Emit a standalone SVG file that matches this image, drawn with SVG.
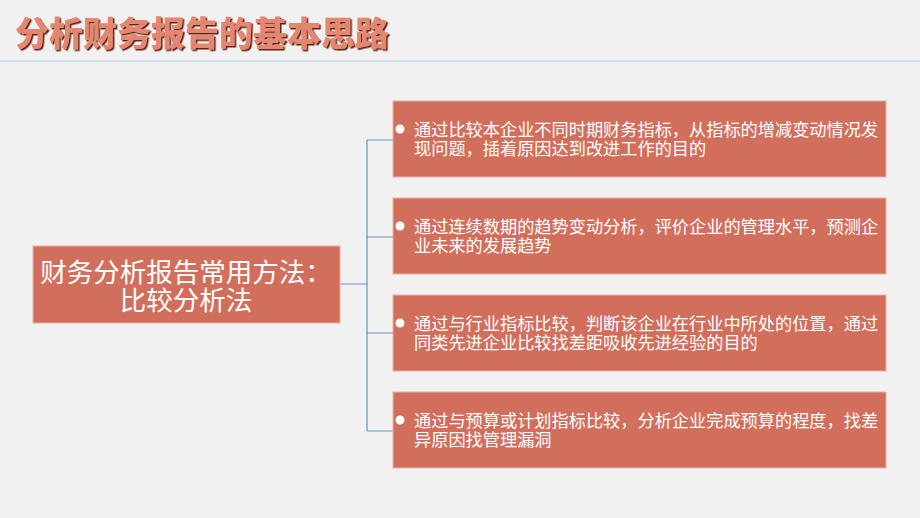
<svg xmlns="http://www.w3.org/2000/svg" width="920" height="518" viewBox="0 0 920 518">
<defs>
<filter id="shadow" x="-5%" y="-20%" width="110%" height="140%">
<feDropShadow dx="1.5" dy="1.5" stdDeviation="0.4" flood-color="#5e2418" flood-opacity="1"/>
</filter>
<style>
.bg{fill:#f1f1f1}
.title{font-family:"Noto Sans CJK SC","Noto Sans",sans-serif;font-size:34px;font-weight:900;fill:#e5876f}
.box{fill:#d26f5c;stroke:#e9b3a8;stroke-width:1}
.main{font-family:"Noto Sans CJK SC","Noto Sans",sans-serif;font-size:26.5px;fill:#ffffff;text-anchor:middle}
.item{font-family:"Noto Sans CJK SC","Noto Sans",sans-serif;font-size:17.2px;fill:#ffffff}
.bullet{fill:#ffffff}
.conn{fill:none;stroke:#6a93bf;stroke-width:1.2}
</style>
</defs>
<rect class="bg" x="0" y="0" width="920" height="518"/>
<g id="title">
<text class="title" x="15" y="46" filter="url(#shadow)">分析财务报告的基本思路</text>
<line x1="0" y1="61" x2="920" y2="61" stroke="#d3dfe9" stroke-width="2"/>
</g>
<g id="connectors">
<path class="conn" d="M340 284 H367 M367 140 V431 M367 140 H393 M367 237 H393 M367 333 H393 M367 431 H393"/>
</g>
<g id="main-node">
<rect class="box" x="33" y="246" width="307" height="77"/>
<text class="main"><tspan x="186" y="282">财务分析报告常用方法：</tspan><tspan x="186" y="310">比较分析法</tspan></text>
</g>
<g id="node-1">
<rect class="box" x="393" y="101" width="493" height="76"/>
<circle class="bullet" cx="400" cy="129" r="4.5"/>
<text class="item"><tspan x="414" y="136">通过比较本企业不同时期财务指标，从指标的增减变动情况发</tspan><tspan x="414" y="155">现问题，插着原因达到改进工作的目的</tspan></text>
</g>
<g id="node-2">
<rect class="box" x="393" y="198" width="493" height="76"/>
<circle class="bullet" cx="400" cy="226" r="4.5"/>
<text class="item"><tspan x="414" y="233">通过连续数期的趋势变动分析，评价企业的管理水平，预测企</tspan><tspan x="414" y="252">业未来的发展趋势</tspan></text>
</g>
<g id="node-3">
<rect class="box" x="393" y="295" width="493" height="76"/>
<circle class="bullet" cx="400" cy="323" r="4.5"/>
<text class="item"><tspan x="414" y="330">通过与行业指标比较，判断该企业在行业中所处的位置，通过</tspan><tspan x="414" y="349">同类先进企业比较找差距吸收先进经验的目的</tspan></text>
</g>
<g id="node-4">
<rect class="box" x="393" y="392" width="493" height="76"/>
<circle class="bullet" cx="400" cy="420" r="4.5"/>
<text class="item"><tspan x="414" y="427">通过与预算或计划指标比较，分析企业完成预算的程度，找差</tspan><tspan x="414" y="446">异原因找管理漏洞</tspan></text>
</g>
</svg>
